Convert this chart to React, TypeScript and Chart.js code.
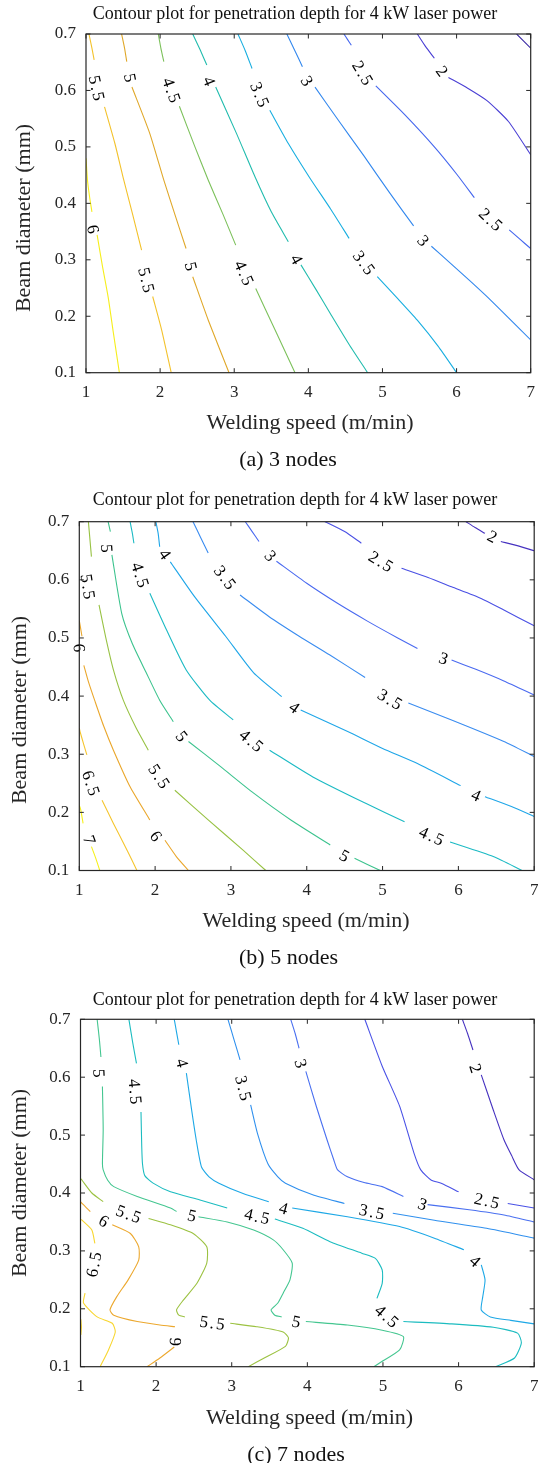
import React, { useEffect, useRef } from "react";
import { Chart, registerables } from "chart.js";

Chart.register(...registerables);

// ---------- shared text / ticks ----------
const xTicks = [1, 2, 3, 4, 5, 6, 7];
const yTicks = [0.1, 0.2, 0.3, 0.4, 0.5, 0.6, 0.7];
const xTickLabels = ["1", "2", "3", "4", "5", "6", "7"];
const yTickLabels = ["0.1", "0.2", "0.3", "0.4", "0.5", "0.6", "0.7"];
const chartTitle = "Contour plot for penetration depth for 4 kW laser power";
const xAxisTitle = "Welding speed (m/min)";
const yAxisTitle = "Beam diameter (mm)";
const captions = ["(a) 3 nodes", "(b) 5 nodes", "(c) 7 nodes"];

type Seg = [number, number[][]];
type Lbl = [string, number, number];

// ---------- panel (a) 3 nodes ----------
const levelsA = [1.5, 2, 2.5, 3, 3.5, 4, 4.5, 5, 5.5, 6];
const colorsA = ["#3b2aa5", "#4a3fd4", "#4466ee", "#3388ee", "#18aee0", "#22bcae", "#7dc15c", "#e0a82a", "#f3c22c", "#f6ee1c"];
const contoursA: Seg[] = [
  [1.5, [[6.81, 0.7], [7.0, 0.675]]],
  [2, [[5.47, 0.7], [5.58, 0.678], [5.7, 0.657]]],
  [2, [[5.89, 0.623], [6.15, 0.604], [6.41, 0.582], [6.7, 0.545], [7.0, 0.486]]],
  [2.5, [[4.48, 0.7], [4.53, 0.69], [4.58, 0.68]]],
  [2.5, [[4.91, 0.608], [5.3, 0.557], [5.7, 0.5], [6.0, 0.452], [6.24, 0.41]]],
  [2.5, [[6.71, 0.353], [6.85, 0.337], [7.0, 0.32]]],
  [3, [[3.71, 0.7], [3.82, 0.67], [3.92, 0.642]]],
  [3, [[4.09, 0.606], [4.4, 0.548], [4.75, 0.484], [5.1, 0.418], [5.42, 0.36]]],
  [3, [[5.66, 0.324], [5.9, 0.296], [6.17, 0.264], [6.4, 0.236], [6.64, 0.205], [7.0, 0.158]]],
  [3.5, [[3.05, 0.7], [3.15, 0.67], [3.24, 0.639]]],
  [3.5, [[3.48, 0.565], [3.73, 0.506], [4.02, 0.445], [4.3, 0.39], [4.55, 0.338]]],
  [3.5, [[4.93, 0.27], [5.2, 0.232], [5.47, 0.193], [5.75, 0.147], [6.0, 0.1]]],
  [4, [[2.44, 0.7], [2.54, 0.672], [2.63, 0.645]]],
  [4, [[2.75, 0.606], [3.03, 0.524], [3.28, 0.447], [3.5, 0.385], [3.73, 0.332]]],
  [4, [[3.9, 0.291], [4.1, 0.248], [4.3, 0.204], [4.55, 0.15], [4.8, 0.1]]],
  [4.5, [[1.975, 0.7], [2.01, 0.675], [2.05, 0.651]]],
  [4.5, [[2.26, 0.572], [2.47, 0.5], [2.65, 0.441], [2.85, 0.38], [3.02, 0.326]]],
  [4.5, [[3.29, 0.249], [3.55, 0.176], [3.82, 0.1]]],
  [5, [[1.48, 0.7], [1.52, 0.675], [1.55, 0.651]]],
  [5, [[1.62, 0.606], [1.86, 0.524], [2.05, 0.441], [2.2, 0.38], [2.35, 0.32]]],
  [5, [[2.44, 0.27], [2.65, 0.193], [2.93, 0.1]]],
  [5.5, [[1.04, 0.7], [1.08, 0.675], [1.11, 0.654]]],
  [5.5, [[1.25, 0.571], [1.39, 0.506], [1.51, 0.441], [1.63, 0.38], [1.75, 0.317]]],
  [5.5, [[1.9, 0.235], [2.02, 0.176], [2.15, 0.1]]],
  [6, [[1.0, 0.48], [1.02, 0.441], [1.05, 0.41], [1.08, 0.385]]],
  [6, [[1.15, 0.344], [1.22, 0.29], [1.3, 0.233], [1.37, 0.17], [1.45, 0.1]]],
];
const labelsA: Lbl[] = [
  ["2", 5.79, 0.633], ["2.5", 4.72, 0.63], ["2.5", 6.45, 0.37],
  ["3", 3.97, 0.616], ["3", 5.54, 0.333], ["3.5", 3.33, 0.592], ["3.5", 4.74, 0.294],
  ["4", 2.65, 0.616], ["4", 3.83, 0.3], ["4.5", 2.14, 0.6], ["4.5", 3.12, 0.276],
  ["5", 1.58, 0.622], ["5", 2.4, 0.288], ["5.5", 1.13, 0.604], ["5.5", 1.8, 0.264],
  ["6", 1.08, 0.354],
];

// ---------- panel (b) 5 nodes ----------
const levelsB = [2, 2.5, 3, 3.5, 4, 4.5, 5, 5.5, 6, 6.5, 7];
const colorsB = ["#4632c0", "#4a50e4", "#4a6af0", "#3a8cf0", "#1fa6e8", "#1cbac4", "#3cc38e", "#98c244", "#eaa72c", "#f5c52e", "#f6f01c"];
const contoursB: Seg[] = [
  [2, [[6.1, 0.7], [6.22, 0.69], [6.35, 0.68]]],
  [2, [[6.56, 0.666], [6.8, 0.658], [7.0, 0.65]]],
  [2.5, [[4.24, 0.7], [4.5, 0.683], [4.72, 0.663]]],
  [2.5, [[5.25, 0.62], [5.6, 0.604], [5.91, 0.588], [6.3, 0.568], [6.6, 0.548], [7.0, 0.521]]],
  [3, [[3.19, 0.7], [3.28, 0.683], [3.37, 0.666]]],
  [3, [[3.6, 0.632], [4.0, 0.594], [4.4, 0.56], [4.8, 0.529], [5.2, 0.5], [5.46, 0.482]]],
  [3, [[5.91, 0.462], [6.23, 0.446], [6.6, 0.426], [7.0, 0.402]]],
  [3.5, [[2.5, 0.7], [2.6, 0.673], [2.7, 0.646]]],
  [3.5, [[3.12, 0.574], [3.5, 0.537], [3.9, 0.503], [4.3, 0.471], [4.77, 0.432]]],
  [3.5, [[5.34, 0.388], [5.91, 0.359], [6.6, 0.322], [7.0, 0.296]]],
  [4, [[2.01, 0.7], [2.04, 0.68], [2.06, 0.657]]],
  [4, [[2.2, 0.631], [2.52, 0.571], [2.93, 0.503], [3.3, 0.44], [3.67, 0.399]]],
  [4, [[3.92, 0.376], [4.54, 0.339], [5.0, 0.31], [5.46, 0.284], [6.03, 0.246]]],
  [4, [[6.35, 0.227], [6.7, 0.21], [7.0, 0.193]]],
  [4.5, [[1.67, 0.7], [1.7, 0.68], [1.72, 0.663]]],
  [4.5, [[1.93, 0.577], [2.15, 0.514], [2.41, 0.445], [2.72, 0.393], [3.03, 0.359]]],
  [4.5, [[3.51, 0.307], [4.08, 0.261], [4.77, 0.216], [5.29, 0.184]]],
  [4.5, [[5.89, 0.149], [6.46, 0.124], [6.84, 0.1]]],
  [5, [[1.38, 0.7], [1.41, 0.683]]],
  [5, [[1.43, 0.643], [1.56, 0.542], [1.7, 0.49], [1.88, 0.441], [2.06, 0.393], [2.24, 0.356]]],
  [5, [[2.44, 0.322], [2.86, 0.279], [3.3, 0.233], [3.8, 0.186], [4.31, 0.144]]],
  [5, [[4.63, 0.121], [4.97, 0.1]]],
  [5.5, [[1.12, 0.7], [1.14, 0.67], [1.16, 0.64]]],
  [5.5, [[1.26, 0.557], [1.35, 0.5], [1.45, 0.445], [1.58, 0.393], [1.75, 0.345], [1.91, 0.307]]],
  [5.5, [[2.26, 0.238], [2.7, 0.187], [3.16, 0.135], [3.46, 0.1]]],
  [6, [[1.0, 0.53], [1.035, 0.503]]],
  [6, [[1.06, 0.453], [1.12, 0.425], [1.21, 0.39], [1.32, 0.349], [1.45, 0.307], [1.67, 0.244], [1.93, 0.187]]],
  [6, [[2.13, 0.152], [2.28, 0.124], [2.44, 0.1]]],
  [6.5, [[1.0, 0.345], [1.01, 0.339], [1.06, 0.316], [1.1, 0.299]]],
  [6.5, [[1.3, 0.221], [1.45, 0.181], [1.63, 0.135], [1.76, 0.1]]],
  [7, [[1.0, 0.212], [1.02, 0.204], [1.05, 0.181]]],
  [7, [[1.16, 0.141], [1.22, 0.12], [1.27, 0.1]]],
];
const labelsB: Lbl[] = [
  ["2", 6.44, 0.673], ["2.5", 4.97, 0.63], ["3", 3.51, 0.64], ["3", 5.8, 0.463],
  ["3.5", 2.91, 0.603], ["3.5", 5.09, 0.393], ["4", 2.12, 0.643], ["4", 3.83, 0.379],
  ["4", 6.23, 0.228], ["4.5", 1.79, 0.608], ["4.5", 3.26, 0.322], ["4.5", 5.64, 0.158],
  ["5", 1.35, 0.654], ["5", 2.34, 0.33], ["5", 4.49, 0.124], ["5.5", 1.1, 0.588],
  ["5.5", 2.04, 0.261], ["6", 0.985, 0.483], ["6", 2.0, 0.158], ["6.5", 1.14, 0.25],
  ["7", 1.12, 0.152],
];

// ---------- panel (c) 7 nodes ----------
const levelsC = [2, 2.5, 3, 3.5, 4, 4.5, 5, 5.5, 6, 6.5];
const colorsC = ["#4632c0", "#4a52e6", "#4a70f0", "#3090ee", "#1ea8e6", "#1cbcc0", "#44c690", "#9cc242", "#eca82e", "#f8d630"];
const contoursC: Seg[] = [
  [2, [[6.05, 0.7], [6.12, 0.675], [6.19, 0.647]]],
  [2, [[6.3, 0.604], [6.46, 0.543], [6.6, 0.492], [6.7, 0.465], [6.8, 0.44], [7.0, 0.423]]],
  [2.5, [[4.76, 0.7], [4.99, 0.619], [5.22, 0.55], [5.41, 0.469], [5.5, 0.44], [5.64, 0.422], [5.77, 0.417], [6.0, 0.402]]],
  [2.5, [[6.65, 0.382], [7.0, 0.374]]],
  [3, [[3.78, 0.7], [3.84, 0.675], [3.89, 0.65]]],
  [3, [[3.98, 0.61], [4.12, 0.549], [4.26, 0.492], [4.35, 0.457], [4.4, 0.44], [4.53, 0.428], [4.75, 0.418], [4.99, 0.411], [5.27, 0.394]]],
  [3, [[5.59, 0.38], [6.14, 0.371], [6.6, 0.362], [7.0, 0.35]]],
  [3.5, [[2.95, 0.7], [3.03, 0.665], [3.11, 0.63]]],
  [3.5, [[3.25, 0.552], [3.34, 0.503], [3.48, 0.45], [3.61, 0.428], [3.71, 0.417], [4.07, 0.397], [4.49, 0.382]]],
  [3.5, [[5.13, 0.365], [5.68, 0.353], [6.37, 0.339], [7.0, 0.322]]],
  [4, [[2.24, 0.7], [2.27, 0.678], [2.3, 0.656]]],
  [4, [[2.4, 0.607], [2.47, 0.543], [2.53, 0.492], [2.6, 0.445], [2.7, 0.428], [2.83, 0.417], [3.15, 0.399], [3.49, 0.385]]],
  [4, [[3.8, 0.374], [4.53, 0.359], [5.22, 0.342], [5.68, 0.322], [6.07, 0.302]]],
  [4, [[6.3, 0.276], [6.35, 0.25], [6.32, 0.221], [6.3, 0.198], [6.42, 0.186], [6.69, 0.18], [7.0, 0.174]]],
  [4.5, [[1.64, 0.7], [1.69, 0.66], [1.74, 0.624]]],
  [4.5, [[1.8, 0.54], [1.81, 0.48], [1.82, 0.45], [1.85, 0.43], [1.96, 0.417], [2.19, 0.402], [2.58, 0.388], [2.94, 0.374]]],
  [4.5, [[3.57, 0.355], [3.94, 0.339], [4.3, 0.316], [4.72, 0.296], [4.9, 0.287], [4.99, 0.267], [4.99, 0.244], [4.92, 0.218]]],
  [4.5, [[5.27, 0.178], [5.91, 0.174], [6.46, 0.168], [6.78, 0.158], [6.83, 0.141], [6.74, 0.115], [6.49, 0.1]]],
  [5, [[1.22, 0.7], [1.25, 0.665], [1.27, 0.635]]],
  [5, [[1.29, 0.584], [1.3, 0.509], [1.29, 0.451], [1.3, 0.44], [1.36, 0.422], [1.44, 0.411], [1.75, 0.394], [2.19, 0.374], [2.27, 0.368]]],
  [5, [[2.56, 0.359], [2.94, 0.35], [3.29, 0.336], [3.55, 0.319], [3.68, 0.302], [3.8, 0.279], [3.77, 0.25], [3.68, 0.227], [3.61, 0.21], [3.52, 0.198], [3.57, 0.189], [3.66, 0.186]]],
  [5, [[3.98, 0.178], [4.53, 0.172], [4.99, 0.163], [5.27, 0.152], [5.22, 0.129], [4.95, 0.106], [4.88, 0.1]]],
  [5.5, [[1.0, 0.425], [1.02, 0.422], [1.15, 0.4], [1.3, 0.385]]],
  [5.5, [[1.9, 0.356], [2.19, 0.345], [2.49, 0.33], [2.67, 0.307], [2.67, 0.279], [2.54, 0.244], [2.36, 0.215], [2.27, 0.198], [2.3, 0.189], [2.38, 0.186]]],
  [5.5, [[2.98, 0.175], [3.33, 0.169], [3.68, 0.16], [3.75, 0.15], [3.71, 0.135], [3.43, 0.115], [3.22, 0.1]]],
  [6, [[1.0, 0.385], [1.02, 0.382], [1.13, 0.368]]],
  [6, [[1.42, 0.345], [1.66, 0.33], [1.77, 0.307], [1.77, 0.284], [1.63, 0.25], [1.48, 0.221], [1.39, 0.198], [1.44, 0.189], [1.75, 0.178], [2.05, 0.172], [2.25, 0.169]]],
  [6, [[2.24, 0.134], [2.05, 0.115], [1.88, 0.1]]],
  [6.5, [[1.0, 0.355], [1.02, 0.353], [1.15, 0.336], [1.19, 0.313]]],
  [6.5, [[1.06, 0.227], [1.04, 0.21], [1.22, 0.186], [1.42, 0.175], [1.46, 0.16], [1.37, 0.129], [1.26, 0.1]]],
  [6.5, [[1.005, 0.182], [1.012, 0.168], [1.005, 0.155]]],
];
const labelsC: Lbl[] = [
  ["2", 6.21, 0.615], ["2.5", 6.37, 0.385], ["3", 3.9, 0.623], ["3", 5.52, 0.379],
  ["3.5", 3.14, 0.581], ["3.5", 4.85, 0.366], ["4", 2.33, 0.624], ["4", 3.68, 0.372],
  ["4", 6.21, 0.281], ["4.5", 1.71, 0.575], ["4.5", 3.33, 0.358], ["4.5", 5.04, 0.186],
  ["5", 1.23, 0.607], ["5", 2.47, 0.359], ["5", 3.85, 0.176], ["5.5", 1.63, 0.362],
  ["5.5", 2.74, 0.174], ["6", 1.3, 0.35], ["6", 2.27, 0.143], ["6.5", 1.19, 0.276],
];

// ---------- layout (page coordinates) ----------
const SERIF = '"Liberation Serif", "Times New Roman", serif';
const INK = "#262626";

interface Lay {
  top: number; height: number;
  left: number; right: number; plotTop: number; plotBottom: number;
  titleX: number; titleY: number; xtX: number; xtY: number; ytX: number; ytY: number; capX: number; capY: number;
}

const layA: Lay = { top: 0, height: 478, left: 86, right: 530.7, plotTop: 34, plotBottom: 372.7, titleX: 295, titleY: 14, xtX: 310, xtY: 423, ytX: 24, ytY: 218, capX: 288, capY: 460 };
const layB: Lay = { top: 478, height: 495, left: 79.3, right: 534.2, plotTop: 521.7, plotBottom: 870.5, titleX: 295, titleY: 500.7, xtX: 306, xtY: 921.7, ytX: 20, ytY: 710, capX: 288.5, capY: 958 };
const layC: Lay = { top: 973, height: 490, left: 80.5, right: 534.2, plotTop: 1019.3, plotBottom: 1366.7, titleX: 295, titleY: 1000, xtX: 309.5, xtY: 1418, ytX: 20, ytY: 1183, capX: 296, capY: 1455 };

function Panel(props: { levels: number[]; colors: string[]; contours: Seg[]; labels: Lbl[]; caption: string; lay: Lay }) {
  const { levels, colors, contours, labels, caption, lay } = props;
  const ref = useRef<HTMLCanvasElement | null>(null);

  useEffect(() => {
    const canvas = ref.current;
    if (!canvas) return;
    const T = lay.top;
    const colorOf = (lv: number) => colors[levels.indexOf(lv)] || "#000";

    const framePlugin = {
      id: "frameAndText",
      afterDraw(chart: any) {
        const ctx: CanvasRenderingContext2D = chart.ctx;
        const xs = chart.scales.x;
        const ys = chart.scales.y;
        const { left, right, top, bottom } = chart.chartArea;
        ctx.save();

        // contour labels, rotated along the gap they sit in
        ctx.fillStyle = "#000";
        ctx.font = `17px ${SERIF}`;
        ctx.textAlign = "center";
        ctx.textBaseline = "middle";
        (ctx as any).letterSpacing = "2px";
        for (const [txt, lx, ly] of labels) {
          const lv = parseFloat(txt);
          const px = xs.getPixelForValue(lx);
          const py = ys.getPixelForValue(ly);
          let bestE: number[] | null = null, dE = Infinity;
          let bestS: number[] | null = null, dS = Infinity;
          for (const [slv, pts] of contours) {
            if (slv !== lv) continue;
            const s = pts[0], e = pts[pts.length - 1];
            const sp = [xs.getPixelForValue(s[0]), ys.getPixelForValue(s[1])];
            const ep = [xs.getPixelForValue(e[0]), ys.getPixelForValue(e[1])];
            const ds = Math.hypot(sp[0] - px, sp[1] - py);
            const de = Math.hypot(ep[0] - px, ep[1] - py);
            if (ds < dS) { dS = ds; bestS = sp; }
            if (de < dE) { dE = de; bestE = ep; }
          }
          let ang = 0;
          if (bestE && bestS) {
            ang = Math.atan2(bestS[1] - bestE[1], bestS[0] - bestE[0]);
            if (ang > Math.PI / 2) ang -= Math.PI;
            if (ang < -Math.PI / 2) ang += Math.PI;
          }
          ctx.save();
          ctx.translate(px, py);
          ctx.rotate(ang);
          ctx.fillText(txt, 1, 0);
          ctx.restore();
        }
        (ctx as any).letterSpacing = "0px";

        // frame
        ctx.strokeStyle = INK;
        ctx.lineWidth = 1.2;
        ctx.strokeRect(left, top, right - left, bottom - top);

        // inward ticks on all sides
        const tl = 4.5;
        ctx.lineWidth = 1;
        ctx.beginPath();
        for (const v of xTicks) {
          const x = xs.getPixelForValue(v);
          ctx.moveTo(x, bottom); ctx.lineTo(x, bottom - tl);
          ctx.moveTo(x, top); ctx.lineTo(x, top + tl);
        }
        for (const v of yTicks) {
          const y = ys.getPixelForValue(v);
          ctx.moveTo(left, y); ctx.lineTo(left + tl, y);
          ctx.moveTo(right, y); ctx.lineTo(right - tl, y);
        }
        ctx.stroke();

        // tick labels
        ctx.fillStyle = INK;
        ctx.font = `17px ${SERIF}`;
        ctx.textAlign = "center";
        ctx.textBaseline = "middle";
        xTicks.forEach((v, i) => ctx.fillText(xTickLabels[i], xs.getPixelForValue(v), bottom + 20));
        ctx.textAlign = "right";
        yTicks.forEach((v, i) => ctx.fillText(yTickLabels[i], left - 10, ys.getPixelForValue(v)));

        // title
        ctx.fillStyle = "#111";
        ctx.textAlign = "center";
        ctx.font = `18px ${SERIF}`;
        ctx.fillText(chartTitle, lay.titleX, lay.titleY - T);

        // axis titles
        ctx.fillStyle = INK;
        ctx.font = `22px ${SERIF}`;
        ctx.fillText(xAxisTitle, lay.xtX, lay.xtY - T);
        ctx.save();
        ctx.translate(lay.ytX, lay.ytY - T);
        ctx.rotate(-Math.PI / 2);
        ctx.fillText(yAxisTitle, 0, 0);
        ctx.restore();

        // caption
        ctx.fillStyle = "#111";
        ctx.font = `22px ${SERIF}`;
        ctx.fillText(caption, lay.capX, lay.capY - T);

        ctx.restore();
      },
    };

    const chart = new Chart(canvas, {
      type: "scatter",
      data: {
        datasets: contours.map(([lv, pts]) => ({
          data: pts.map(([x, y]) => ({ x, y })),
          showLine: true,
          borderColor: colorOf(lv),
          backgroundColor: colorOf(lv),
          borderWidth: 1.1,
          pointRadius: 0,
          pointHoverRadius: 0,
          tension: 0.2,
          fill: false,
        })),
      },
      options: {
        animation: false,
        responsive: false,
        devicePixelRatio: 1,
        layout: { padding: { top: lay.plotTop - T, right: 545 - lay.right, left: 0, bottom: 0 } },
        plugins: { legend: { display: false }, tooltip: { enabled: false }, title: { display: false } },
        scales: {
          x: {
            type: "linear", min: 1, max: 7,
            grid: { display: false, drawTicks: false },
            border: { display: false },
            ticks: { display: false },
            afterFit: (s: any) => { s.height = T + lay.height - lay.plotBottom; },
          },
          y: {
            type: "linear", min: 0.1, max: 0.7,
            grid: { display: false, drawTicks: false },
            border: { display: false },
            ticks: { display: false },
            afterFit: (s: any) => { s.width = lay.left; },
          },
        },
      } as any,
      plugins: [framePlugin],
    });
    return () => chart.destroy();
  }, []);

  return (
    <canvas
      ref={ref}
      width={545}
      height={lay.height}
      style={{ position: "absolute", left: 0, top: lay.top, width: 545, height: lay.height }}
    />
  );
}

export default function App() {
  return (
    <div style={{ position: "absolute", left: 0, top: 0, width: 545, height: 1463, background: "#fff" }}>
      <Panel levels={levelsA} colors={colorsA} contours={contoursA} labels={labelsA} caption={captions[0]} lay={layA} />
      <Panel levels={levelsB} colors={colorsB} contours={contoursB} labels={labelsB} caption={captions[1]} lay={layB} />
      <Panel levels={levelsC} colors={colorsC} contours={contoursC} labels={labelsC} caption={captions[2]} lay={layC} />
    </div>
  );
}
